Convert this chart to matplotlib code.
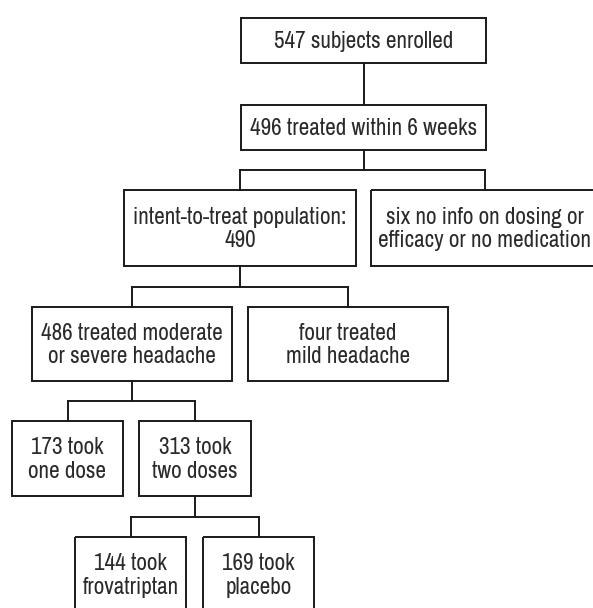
import matplotlib
matplotlib.use("Agg")
import matplotlib.pyplot as plt
from matplotlib.patches import Rectangle
from matplotlib import font_manager

# ---- data (box texts) ----
labels = [
    "547 subjects enrolled",
    "496 treated within 6 weeks",
    "intent-to-treat population:\n490",
    "six no info on dosing or\nefficacy or no medication",
    "486 treated moderate\nor severe headache",
    "four treated\nmild headache",
    "173 took\none dose",
    "313 took\ntwo doses",
    "144 took\nfrovatriptan",
    "169 took\nplacebo",
]

# layout: (x0, y0, x1, y1) in pixel coordinates
boxes = [
    (241, 18, 486, 63),
    (241, 105, 486, 150),
    (124, 190, 356, 266),
    (371, 190, 598, 266),
    (32, 307, 232, 381),
    (248, 307, 448, 381),
    (12, 421, 123, 496),
    (139, 421, 251, 496),
    (75, 537, 186, 612),
    (203, 537, 314, 612),
]
# tree: parent -> children
tree = {0: [1], 1: [2, 3], 2: [4, 5], 4: [6, 7], 7: [8, 9]}

available = {f.name for f in font_manager.fontManager.ttflist}
fam = "Liberation Sans"
for cand in ["Archivo Narrow", "Roboto Condensed", "Liberation Sans"]:
    if cand in available:
        fam = cand
        break

W, H = 593, 608
fig = plt.figure(figsize=(W / 100, H / 100), dpi=100)
ax = fig.add_axes([0, 0, 1, 1])
ax.set_xlim(0, W)
ax.set_ylim(H, 0)
ax.axis("off")

# size the font so the first label is ~180 px wide, like the reference
probe = fig.text(0, 0, labels[0], fontsize=15, family=fam)
r = fig.canvas.get_renderer()
w = probe.get_window_extent(renderer=r).width
probe.remove()
fsz = 15 * 180.0 / w
lsp = 27.0 / (fsz * 100 / 72)

lw = 1.4
col = "#1a1a1a"

for (x0, y0, x1, y1), lab in zip(boxes, labels):
    ax.add_patch(Rectangle((x0, y0), x1 - x0, y1 - y0, fill=False,
                           edgecolor=col, lw=lw, clip_on=False))
    ax.text((x0 + x1) / 2, (y0 + y1) / 2 + 1, lab,
            ha="center", va="center", fontsize=fsz, family=fam,
            color="#2a2a2a", linespacing=lsp)

for p, kids in tree.items():
    px0, py0, px1, py1 = boxes[p]
    pcx = (px0 + px1) / 2
    if len(kids) == 1:
        c = boxes[kids[0]]
        ax.plot([pcx, pcx], [py1, c[1]], color=col, lw=lw)
        continue
    cys = min(boxes[k][1] for k in kids)
    my = (py1 + cys) / 2
    ax.plot([pcx, pcx], [py1, my], color=col, lw=lw)
    xs = [(boxes[k][0] + boxes[k][2]) / 2 for k in kids]
    ax.plot([min(xs), max(xs)], [my, my], color=col, lw=lw)
    for k, x in zip(kids, xs):
        ax.plot([x, x], [my, boxes[k][1]], color=col, lw=lw)

fig.savefig("out.png", dpi=100, facecolor="white")
